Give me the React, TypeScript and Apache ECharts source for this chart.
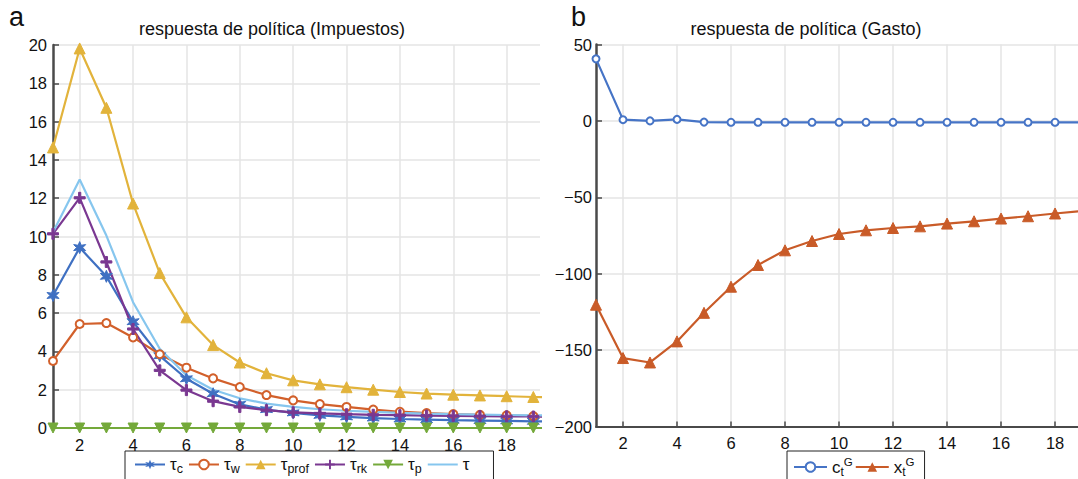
import React, { useEffect, useRef } from "react";
import * as echarts from "echarts";

// Horizon (periods after the shock)
const periods = [1, 2, 3, 4, 5, 6, 7, 8, 9, 10, 11, 12, 13, 14, 15, 16, 17, 18, 19, 20];
const xTicks = [2, 4, 6, 8, 10, 12, 14, 16, 18];

// Panel a: tax instruments
const tauC = [6.92, 9.42, 7.92, 5.55, 3.77, 2.57, 1.79, 1.23, 0.96, 0.79, 0.66, 0.58, 0.52, 0.47, 0.44, 0.41, 0.39, 0.37, 0.35, 0.34];
const tauW = [3.5, 5.43, 5.48, 4.73, 3.85, 3.15, 2.59, 2.14, 1.72, 1.44, 1.25, 1.1, 0.96, 0.85, 0.78, 0.73, 0.69, 0.66, 0.62, 0.6];
const tauProf = [14.65, 19.82, 16.72, 11.72, 8.09, 5.78, 4.33, 3.42, 2.86, 2.49, 2.28, 2.13, 2.0, 1.88, 1.8, 1.74, 1.7, 1.66, 1.62, 1.59];
const tauRk = [10.14, 12.02, 8.67, 5.17, 3.01, 1.98, 1.4, 1.1, 0.93, 0.82, 0.76, 0.72, 0.69, 0.67, 0.65, 0.63, 0.62, 0.61, 0.6, 0.59];
const tauP = [0, 0, 0, 0, 0, 0, 0, 0, 0, 0, 0, 0, 0, 0, 0, 0, 0, 0, 0, 0];
const tauAll = [10.22, 12.98, 10.05, 6.57, 4.14, 2.75, 2.0, 1.55, 1.27, 1.1, 0.98, 0.9, 0.84, 0.79, 0.75, 0.72, 0.7, 0.68, 0.66, 0.65];

// Panel b: spending instruments
const cG = [40.6, 0.8, 0, 1.0, -0.8, -0.9, -0.9, -0.9, -0.9, -0.9, -0.9, -0.9, -0.9, -0.9, -0.9, -0.9, -0.9, -0.9, -0.9, -0.9];
const xG = [-120.3, -155.2, -158.1, -144.3, -125.6, -108.5, -94.3, -84.7, -78.6, -74.0, -71.6, -70.1, -69.0, -67.2, -65.7, -63.9, -62.4, -60.6, -59.0, -57.5];

const FONT = "'Liberation Sans', Arial, Helvetica, sans-serif";

const pairs = (vals: number[]) => periods.map((p, i) => [p, vals[i]]);

// asterisk-like marker
const asteriskPath = (() => {
  const pts: string[] = [];
  const n = 12;
  for (let k = 0; k < n; k++) {
    const a = (Math.PI * 2 * k) / n - Math.PI / 2;
    const r = k % 2 === 0 ? 10 : 4.5;
    pts.push(`${(10 + r * Math.cos(a)).toFixed(2)},${(10 + r * Math.sin(a)).toFixed(2)}`);
  }
  return "path://M" + pts.join("L") + "Z";
})();
const plusPath = "path://M4,0H6V4H10V6H6V10H4V6H0V4H4Z";
const downTriPath = "path://M0,0L10,0L5,9Z";

const C_BLUE = "#3f70c2";
const C_ORANGE = "#d2602b";
const C_YELLOW = "#e2b33b";
const C_PURPLE = "#7a3891";
const C_GREEN = "#74a93a";
const C_LIGHT = "#86c6ee";
const C_CG = "#4674c6";
const C_XG = "#c95b28";

const legendA: Record<string, string> = {
  "τc": "{g|τ}{s|c}",
  "τw": "{g|τ}{s|w}",
  "τprof": "{g|τ}{s|prof}",
  "τrk": "{g|τ}{s|rk}",
  "τp": "{g|τ}{s|p}",
  "τ": "{g|τ}",
};
const legendB: Record<string, string> = {
  cG: "{g|c}{t0|t}{p|G}",
  xG: "{g|x}{t0|t}{p|G}",
};

const axisColor = "#4a4a4a";
const gridColor = "#e4e4e4";

function xAxisFor(gridIndex: number, max: number) {
  return {
    type: "value",
    gridIndex,
    min: 1,
    max,
    axisLine: { show: true, onZero: false, lineStyle: { color: axisColor, width: 2 } },
    axisTick: { show: true, inside: true, length: 5, customValues: xTicks, lineStyle: { color: axisColor, width: 1.5 } },
    axisLabel: { customValues: xTicks, margin: 8, fontSize: 16.5, color: "#111", fontFamily: FONT },
    splitLine: { show: true, lineStyle: { color: gridColor, width: 1.5 } },
  };
}

function yAxisFor(gridIndex: number, min: number, max: number, interval: number, margin: number) {
  return {
    type: "value",
    gridIndex,
    min,
    max,
    interval,
    axisLine: { show: true, onZero: false, lineStyle: { color: axisColor, width: 2.5 } },
    axisTick: { show: true, inside: true, length: 6, lineStyle: { color: axisColor, width: 1.5 } },
    axisLabel: {
      margin,
      fontSize: 16.5,
      color: "#111",
      fontFamily: FONT,
      formatter: (v: number) => String(v).replace("-", "\u2212"),
    },
    splitLine: { show: true, lineStyle: { color: gridColor, width: 1.5 } },
  };
}

function lineSeries(name: string, vals: number[], color: string, idx: number, symbol: string, size: number, extra: any = {}) {
  return {
    name,
    type: "line",
    xAxisIndex: idx,
    yAxisIndex: idx,
    data: pairs(vals),
    symbol,
    symbolSize: size,
    showSymbol: symbol !== "none",
    lineStyle: { color, width: 2.2 },
    itemStyle: { color, borderColor: color },
    clip: true,
    ...extra,
  };
}

export default function App() {
  const ref = useRef<HTMLDivElement>(null);

  useEffect(() => {
    if (!ref.current) return;
    const chart = echarts.init(ref.current, undefined, { renderer: "svg" });
    const legendText = {
      fontSize: 16,
      color: "#111",
      fontFamily: FONT,
      rich: {
        g: { fontSize: 17, lineHeight: 22, verticalAlign: "middle", fontFamily: FONT, color: "#111" },
        s: { fontSize: 12.5, lineHeight: 10, verticalAlign: "bottom", fontFamily: FONT, color: "#111" },
        t0: { fontSize: 12, lineHeight: 8, verticalAlign: "bottom", fontFamily: FONT, color: "#111" },
        p: { fontSize: 11.5, lineHeight: 6, verticalAlign: "top", fontFamily: FONT, color: "#111" },
      },
    };
    chart.setOption({
      animation: false,
      backgroundColor: "#ffffff",
      textStyle: { fontFamily: FONT },
      grid: [
        { left: 53, top: 45, width: 487, height: 383 },
        { left: 596, top: 44.5, width: 482, height: 382 },
      ],
      xAxis: [xAxisFor(0, 19.25), xAxisFor(1, 18.85)],
      yAxis: [yAxisFor(0, 0, 20, 2, 6), yAxisFor(1, -200, 50, 50, 4)],
      legend: [
        {
          data: ["τc", "τw", "τprof", "τrk", "τp", { name: "τ", itemStyle: { opacity: 0 } }],
          left: 125,
          top: 451,
          itemWidth: 30,
          itemHeight: 12,
          itemGap: 5,
          borderColor: "#222",
          borderWidth: 1,
          padding: [5, 24, 14, 9],
          selectedMode: false,
          textStyle: legendText,
          formatter: (n: string) => legendA[n] ?? n,
        },
        {
          data: ["cG", "xG"],
          left: 787,
          top: 451,
          itemWidth: 33,
          itemHeight: 12,
          itemGap: 2,
          borderColor: "#222",
          borderWidth: 1,
          padding: [5, 10, 14, 6],
          selectedMode: false,
          textStyle: legendText,
          formatter: (n: string) => legendB[n] ?? n,
        },
      ],
      graphic: [
        { type: "text", left: 9, top: 3, style: { text: "a", fontSize: 27, fontFamily: FONT, fill: "#111" } },
        { type: "text", left: 571, top: 3, style: { text: "b", fontSize: 27, fontFamily: FONT, fill: "#111" } },
        {
          type: "text",
          x: 272,
          y: 29,
          style: { text: "respuesta de política (Impuestos)", fontSize: 18, fontFamily: FONT, fill: "#111", align: "center", verticalAlign: "middle" },
        },
        {
          type: "text",
          x: 806,
          y: 29,
          style: { text: "respuesta de política (Gasto)", fontSize: 18, fontFamily: FONT, fill: "#111", align: "center", verticalAlign: "middle" },
        },
      ],
      series: [
        lineSeries("τc", tauC, C_BLUE, 0, asteriskPath, 12),
        lineSeries("τw", tauW, C_ORANGE, 0, "emptyCircle", 8, { itemStyle: { color: C_ORANGE, borderWidth: 2.6 } }),
        lineSeries("τprof", tauProf, C_YELLOW, 0, "triangle", 11),
        lineSeries("τrk", tauRk, C_PURPLE, 0, plusPath, 11),
        lineSeries("τp", tauP, C_GREEN, 0, downTriPath, 10),
        lineSeries("τ", tauAll, C_LIGHT, 0, "none", 0),
        lineSeries("cG", cG, C_CG, 1, "emptyCircle", 7, { itemStyle: { color: C_CG, borderWidth: 2.6 } }),
        lineSeries("xG", xG, C_XG, 1, "triangle", 11),
      ],
    });
    return () => chart.dispose();
  }, []);

  return (
    <div
      ref={ref}
      style={{ position: "fixed", left: 0, top: 0, width: 1078, height: 479, background: "#fff" }}
    />
  );
}
